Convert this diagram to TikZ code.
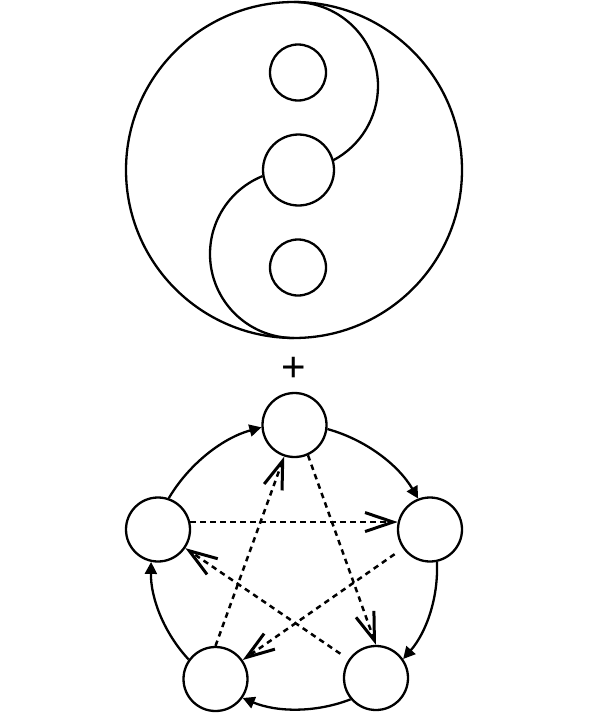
\documentclass[tikz,border=0pt]{standalone}
\usepackage{fontspec}
\newfontfamily\plusfont{Liberation Sans}
\usetikzlibrary{arrows.meta}
\begin{document}
\begin{tikzpicture}[x=1pt,y=1pt,
  line width=2.3pt,
  ring/.style={circle, draw, line width=2.3pt, inner sep=0pt},
  vtx/.style={ring, minimum size=64pt},
  cyc/.style={-{Triangle[length=12pt,width=12pt]}, bend left=22, looseness=0.88},
  star/.style={line width=2.5pt, dash pattern=on 5.5pt off 4.5pt, -{Straight Barb[length=28pt,width=19pt,line width=3pt]}}
]
\useasboundingbox (0,0) rectangle (600,-715);
% yin-yang
\draw (294,-170) circle[radius=168];
\draw (294,-2) arc[start angle=90, end angle=-62, radius=84];
\draw (294,-338) arc[start angle=270, end angle=112, radius=84];
\node[ring, minimum size=71pt] (mid) at (298.5,-170) {};
\node[ring, minimum size=56pt] (dotA) at (298,-72.5) {};
\node[ring, minimum size=56pt] (dotB) at (298,-267.5) {};
% plus
\node[inner sep=0pt, font=\plusfont\fontsize{42}{42}\selectfont] (plus) at (294,-369) {+};
% pentagon of nodes
\node[vtx] (top) at (294.5,-425) {};
\node[vtx] (left) at (158,-529.5) {};
\node[vtx] (right) at (430,-529.5) {};
\node[vtx] (bl) at (215.5,-679) {};
\node[vtx] (br) at (376,-678) {};
% outer cycle
\draw[cyc] (left.71) to (top.184);
\draw[cyc] (top.-7) to (right.111);
\draw[cyc] (right.-78) to (br.35);
\draw[cyc] (br.220) to (bl.-35);
\draw[cyc] (bl.144) to (left.-102);
% star
\draw[star] (top.-66) -- (br.90);
\draw[star] (left.13) -- (right.167);
\draw[star, shorten <=10pt] (right) -- (bl);
\draw[star, shorten <=10pt] (br) -- (left);
\draw[star] (bl.90) -- (top.-108);
\end{tikzpicture}
\end{document}
